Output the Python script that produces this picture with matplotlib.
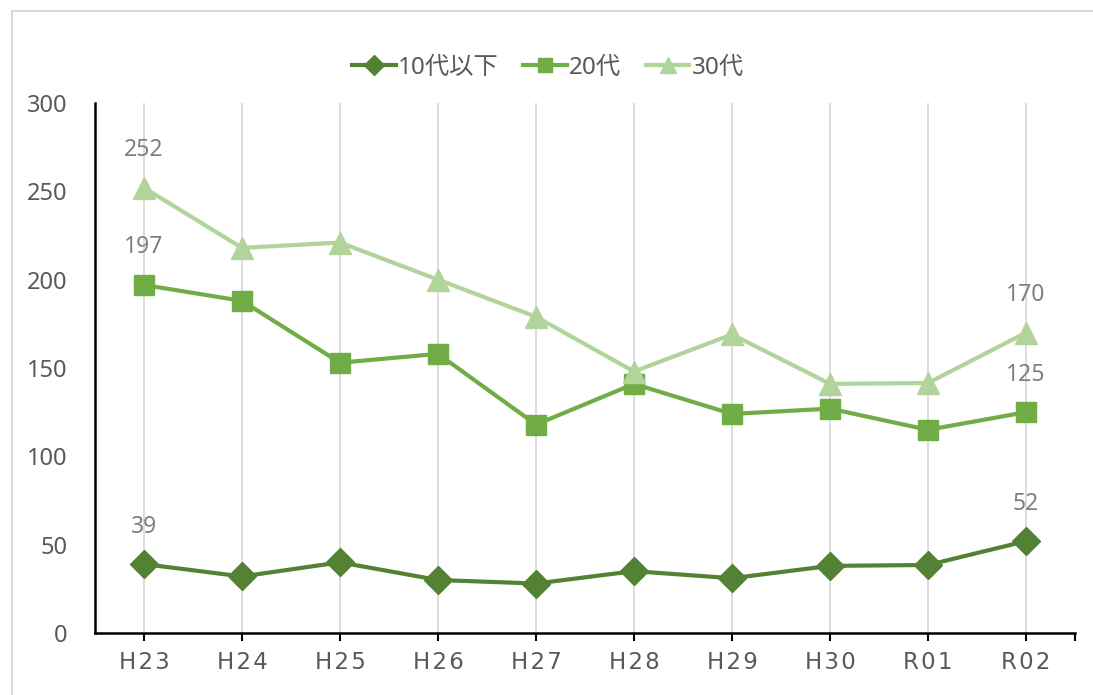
import numpy as np
import matplotlib.pyplot as plt
from matplotlib.patches import Rectangle

plt.rcParams['font.family'] = ['Noto Sans', 'Noto Sans CJK JP', 'DejaVu Sans']

years = ["H23", "H24", "H25", "H26", "H27", "H28", "H29", "H30", "R01", "R02"]
teens = [39, 32, 40, 30, 28, 35, 31, 38, 38.5, 52]
twenties = [197, 188, 153, 158, 118, 141, 124, 127, 115, 125]
thirties = [252, 218, 221, 200, 179, 148, 169, 141, 141.5, 170]
series_names = ["10代以下", "20代", "30代"]

C_DARK = "#548235"
C_MID = "#70AD47"
C_LIGHT = "#B0D49A"
TXT = "#595959"

fig = plt.figure(figsize=(10.93, 6.95), dpi=100)
W, H = 1093, 695
ax = fig.add_axes([95 / W, (H - 633) / H, (1075 - 95) / W, (633 - 103) / H])

# light frame around the chart area
fig.patches.append(Rectangle((12 / W, -0.05), 1.1, (H - 11) / H + 0.05,
                             transform=fig.transFigure, fill=False,
                             edgecolor="#D9D9D9", linewidth=1.5))

x = np.arange(len(years))
ax.plot(x, teens, marker="D", markersize=14, color=C_DARK, linewidth=3, label=series_names[0], zorder=3)
ax.plot(x, twenties, marker="s", markersize=14, color=C_MID, linewidth=3, label=series_names[1], zorder=3)
ax.plot(x, thirties, marker="^", markersize=16, color=C_LIGHT, linewidth=3, label=series_names[2], zorder=4)

# data labels on first and last points
for vals in (teens, twenties, thirties):
    for i in (0, len(vals) - 1):
        ax.annotate(f"{vals[i]:.0f}", (x[i], vals[i]), xytext=(0, 27), textcoords="offset points",
                    ha="center", va="center", fontsize=16.5, color="#7F7F7F")

ax.set_xlim(-0.5, len(years) - 0.5)
ax.set_ylim(0, 300)
ax.set_yticks(np.arange(0, 301, 50))
ax.set_xticks(x)
ax.set_xticklabels(["\u200a".join(y) for y in years], family=['DejaVu Sans'], fontsize=16.5, color=TXT)
ax.set_xticks([len(years) - 0.5], minor=True)
for lab in ax.get_yticklabels():
    lab.set_fontsize(17)
    lab.set_color(TXT)
ax.tick_params(axis="y", length=0, pad=20)
ax.tick_params(axis="x", which="both", length=6, width=1.5, color="black", pad=7)
ax.grid(axis="x", color="#D9D9D9", linewidth=1.3)
ax.set_axisbelow(True)
for s in ("top", "right"):
    ax.spines[s].set_visible(False)
for s in ("left", "bottom"):
    ax.spines[s].set_linewidth(1.8)
    ax.spines[s].set_color("black")

leg = fig.legend(loc="center", bbox_to_anchor=(548 / W, 1 - 68 / H), ncol=3, frameon=False,
                 fontsize=17.5, handlelength=1.8, columnspacing=1.0, handletextpad=0.1, markerscale=0.75)
for t in leg.get_texts():
    t.set_color(TXT)

fig.savefig("out.png", dpi=100)
